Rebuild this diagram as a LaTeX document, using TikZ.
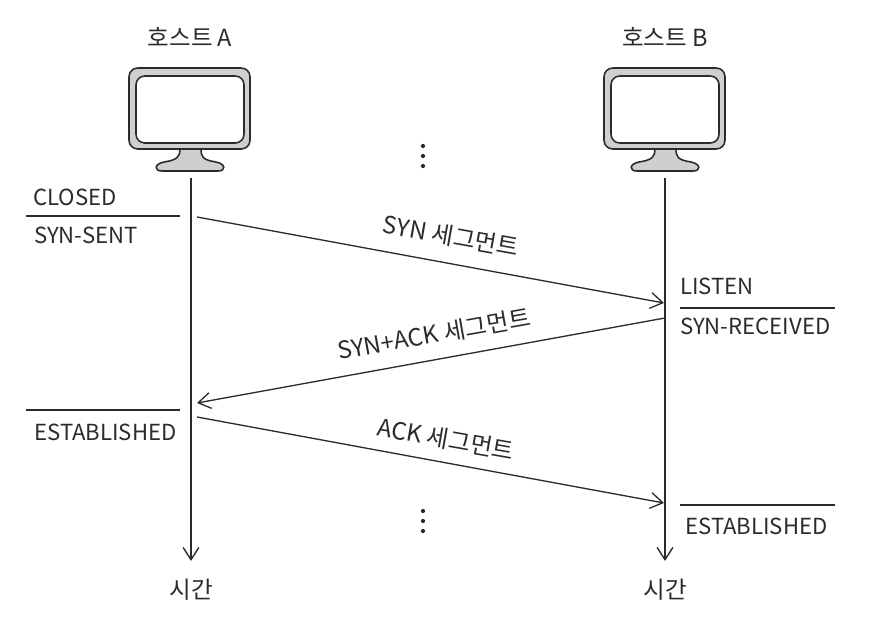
\documentclass[tikz,border=0pt]{standalone}
\usepackage{fontspec}
\setmainfont{Noto Sans CJK KR}
\usetikzlibrary{arrows.meta}
\definecolor{hsInk}{HTML}{2B2B2B}
\definecolor{hsGray}{HTML}{CFCFCF}
\tikzset{
  lifeLine/.style={draw=hsInk,line width=0.8pt,-{Straight Barb[length=7pt,width=9pt]}},
  segLine/.style={draw=hsInk,line width=0.75pt,-{Straight Barb[length=7pt,width=9pt]}},
  stateRule/.style={draw=hsInk,line width=0.75pt},
  stateText/.style={text=hsInk,font=\fontsize{12.6}{15}\selectfont,inner sep=0pt},
  segText/.style={text=hsInk,font=\fontsize{13.6}{16}\selectfont,inner sep=0pt},
  hostText/.style={text=hsInk,font=\fontsize{13.4}{16}\selectfont,inner sep=0pt},
  gapDot/.style={circle,fill=hsInk,inner sep=0pt,minimum size=2.4pt},
  pics/hostScreen/.style={code={
    % stand, outer case, then the white screen
    \draw[hsInk,line width=0.9pt,fill=hsGray] (-10,149) .. controls (-10,156) and (-12,160) .. (-26,162)
      .. controls (-36,164) and (-36,171) .. (-28,171) -- (28,171)
      .. controls (36,171) and (36,164) .. (26,162) .. controls (12,160) and (11,156) .. (11,149) -- cycle;
    \draw[hsInk,line width=0.9pt,fill=hsGray,rounded corners=5pt] (-61,68) rectangle (60,149);
    \draw[hsInk,line width=0.9pt,fill=white,rounded corners=5pt] (-54,76) rectangle (54,143);
  }}
}
\begin{document}
\begin{tikzpicture}[x=0.02cm,y=-0.02cm]
\useasboundingbox (0,0) rectangle (876,632);
\pic at (190,0) {hostScreen};
\pic at (665,0) {hostScreen};
\node[hostText] (hostA) at (190,37) {호스트 A};
\node[hostText] (hostB) at (665,37) {호스트 B};
\coordinate (lifeAtop) at (191,178);
\coordinate (lifeBtop) at (665,178);
\coordinate (lifeAend) at (191,561);
\coordinate (lifeBend) at (665,561);
\node[hostText] (timeA) at (191,590) {시간};
\node[hostText] (timeB) at (665,590) {시간};
\draw[lifeLine] (lifeAtop) -- (lifeAend);
\draw[lifeLine] (lifeBtop) -- (lifeBend);
% segments between the two hosts
\coordinate (synA) at (197,217);
\coordinate (synB) at (664,303);
\coordinate (saB) at (665,318);
\coordinate (saA) at (197,403);
\coordinate (ackA) at (197,417);
\coordinate (ackB) at (664,503);
\draw[segLine] (synA) -- (synB);
\draw[segLine] (saB) -- (saA);
\draw[segLine] (ackA) -- (ackB);
\node[segText,rotate=-10] (synText) at (451,236) {SYN 세그먼트};
\node[segText,rotate=10] (saText) at (434,334) {SYN+ACK 세그먼트};
\node[segText,rotate=-10] (ackText) at (446,439) {ACK 세그먼트};
% states
\node[stateText,anchor=west] (closedA) at (33,197) {CLOSED};
\node[stateText,anchor=west] (sentA) at (34,235) {SYN-SENT};
\node[stateText,anchor=west] (estabA) at (34,432) {ESTABLISHED};
\node[stateText,anchor=west] (listenB) at (680,286) {LISTEN};
\node[stateText,anchor=west] (recvB) at (680,326) {SYN-RECEIVED};
\node[stateText,anchor=west] (estabB) at (685,526) {ESTABLISHED};
\draw[stateRule] (26,216) -- (180,216);
\draw[stateRule] (26,410) -- (180,410);
\draw[stateRule] (680,308) -- (835,308);
\draw[stateRule] (680,505) -- (835,505);
\foreach \y in {146,156,166} \node[gapDot] (dotTop\y) at (423,\y) {};
\foreach \y in {511,521,531} \node[gapDot] (dotLow\y) at (423,\y) {};
\end{tikzpicture}
\end{document}
